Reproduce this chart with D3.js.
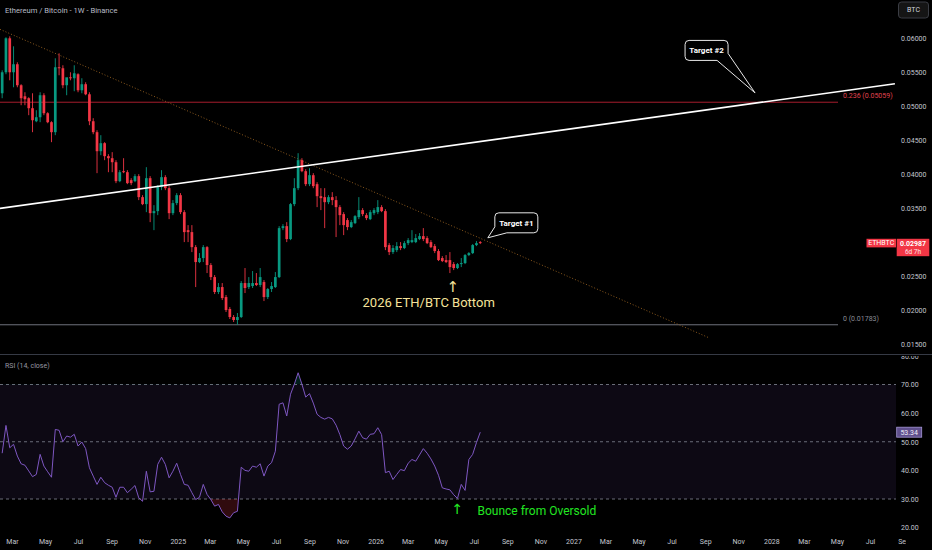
<!DOCTYPE html>
<html>
<head>
<script src="https://d3js.org/d3.v7.min.js"></script>
<style>
    html, body { margin: 0; padding: 0; background: #000; }
    svg { display: block; font-family: Roboto, "Noto Sans", sans-serif; }
</style>
</head>
<body>
<div id="chart"></div>
<script>
// ---- data ----
const firstWeek = "2024-02-12"; // first weekly candle
// weekly candles [open, high, low, close] (ETH priced in BTC)
const candles = [
    [0.05191,0.05529,0.05118,0.05500],[0.05500,0.06015,0.05471,0.06000],[0.06000,0.06029,0.05382,0.05500],
    [0.05500,0.05882,0.05279,0.05618],[0.05618,0.05647,0.05279,0.05309],[0.05309,0.05324,0.05015,0.05118],
    [0.05147,0.05206,0.05015,0.05103],[0.05118,0.05132,0.04868,0.04971],[0.04971,0.05191,0.04618,0.04794],
    [0.04779,0.04941,0.04765,0.04838],[0.04838,0.05206,0.04765,0.05162],[0.05162,0.05191,0.04868,0.04897],
    [0.04897,0.04912,0.04750,0.04765],[0.04765,0.04779,0.04471,0.04618],[0.04618,0.05706,0.04574,0.05574],
    [0.05574,0.05779,0.05456,0.05559],[0.05559,0.05603,0.05265,0.05309],[0.05309,0.05382,0.05162,0.05426],
    [0.05426,0.05500,0.05382,0.05412],[0.05412,0.05603,0.05221,0.05485],[0.05471,0.05485,0.05206,0.05235],
    [0.05235,0.05412,0.05191,0.05324],[0.05324,0.05353,0.05162,0.05176],[0.05176,0.05206,0.04721,0.04779],
    [0.04779,0.04824,0.04588,0.04618],[0.04618,0.04647,0.04015,0.04338],[0.04338,0.04574,0.04279,0.04456],
    [0.04456,0.04471,0.04206,0.04265],[0.04265,0.04294,0.04029,0.04235],[0.04235,0.04324,0.04029,0.04176],
    [0.04176,0.04206,0.03868,0.03897],[0.03897,0.04059,0.03882,0.04029],[0.04044,0.04235,0.04015,0.04029],
    [0.04029,0.04059,0.03853,0.03868],[0.03912,0.03941,0.03838,0.03868],[0.03897,0.04000,0.03882,0.03971],
    [0.03971,0.04000,0.03618,0.03662],[0.03662,0.03691,0.03544,0.03559],[0.03559,0.04103,0.03441,0.03941],
    [0.03941,0.03971,0.03294,0.03426],[0.03426,0.03544,0.03176,0.03456],[0.03456,0.03838,0.03397,0.03809],
    [0.03809,0.04059,0.03765,0.03956],[0.03956,0.03985,0.03765,0.03794],[0.03794,0.03824,0.03338,0.03426],
    [0.03426,0.03618,0.03397,0.03574],[0.03574,0.03721,0.03544,0.03691],[0.03691,0.03721,0.03412,0.03441],
    [0.03441,0.03471,0.03000,0.03147],[0.03176,0.03250,0.03000,0.03147],[0.03147,0.03250,0.02853,0.02926],
    [0.02926,0.02956,0.02338,0.02706],[0.02706,0.02838,0.02691,0.02765],[0.02765,0.02956,0.02706,0.02926],
    [0.02926,0.02941,0.02544,0.02662],[0.02662,0.02691,0.02441,0.02485],[0.02485,0.02515,0.02235,0.02265],
    [0.02265,0.02397,0.02235,0.02338],[0.02338,0.02397,0.02147,0.02176],[0.02191,0.02221,0.01971,0.02000],
    [0.02015,0.02044,0.01868,0.01897],[0.01897,0.01926,0.01824,0.01853],[0.01853,0.01956,0.01783,0.01897],
    [0.01897,0.02426,0.01882,0.02397],[0.02397,0.02618,0.02250,0.02324],[0.02338,0.02485,0.02309,0.02397],
    [0.02353,0.02574,0.02324,0.02397],[0.02397,0.02544,0.02353,0.02368],[0.02368,0.02618,0.02338,0.02485],
    [0.02412,0.02441,0.02132,0.02191],[0.02191,0.02324,0.02162,0.02309],[0.02309,0.02412,0.02265,0.02353],
    [0.02338,0.02559,0.02324,0.02485],[0.02485,0.03235,0.02471,0.03206],[0.03206,0.03265,0.03176,0.03235],
    [0.03235,0.03294,0.03000,0.03044],[0.03044,0.03574,0.03029,0.03559],[0.03559,0.03941,0.03529,0.03794],
    [0.03794,0.04309,0.03765,0.04206],[0.04206,0.04235,0.04029,0.04044],[0.04044,0.04074,0.03824,0.03853],
    [0.03853,0.04088,0.03824,0.03985],[0.03985,0.04015,0.03794,0.03824],[0.03853,0.03882,0.03515,0.03676],
    [0.03676,0.03794,0.03471,0.03647],[0.03662,0.03794,0.03206,0.03588],[0.03588,0.03691,0.03559,0.03662],
    [0.03662,0.03735,0.03544,0.03618],[0.03618,0.03676,0.03074,0.03515],[0.03515,0.03544,0.03250,0.03397],
    [0.03412,0.03441,0.03103,0.03250],[0.03324,0.03353,0.03176,0.03221],[0.03221,0.03324,0.03206,0.03294],
    [0.03279,0.03397,0.03265,0.03382],[0.03368,0.03662,0.03338,0.03471],[0.03471,0.03500,0.03382,0.03412],
    [0.03397,0.03426,0.03324,0.03353],[0.03338,0.03471,0.03324,0.03441],[0.03426,0.03500,0.03397,0.03471],
    [0.03441,0.03618,0.03412,0.03515],[0.03515,0.03544,0.03441,0.03456],[0.03456,0.03485,0.02882,0.02926],
    [0.02956,0.02985,0.02809,0.02853],[0.02853,0.02956,0.02824,0.02912],[0.02882,0.03000,0.02853,0.02941],
    [0.02941,0.03000,0.02882,0.02912],[0.02912,0.03015,0.02897,0.02985],[0.02985,0.03059,0.02956,0.03029],
    [0.03000,0.03176,0.02985,0.03029],[0.03000,0.03118,0.02985,0.03059],[0.03044,0.03132,0.03029,0.03088],
    [0.03088,0.03206,0.03015,0.03044],[0.03059,0.03088,0.02971,0.02985],[0.03000,0.03029,0.02912,0.02926],
    [0.02941,0.02971,0.02838,0.02868],[0.02868,0.02897,0.02721,0.02735],[0.02765,0.02794,0.02706,0.02721],
    [0.02735,0.02809,0.02691,0.02706],[0.02735,0.02853,0.02544,0.02632],[0.02676,0.02706,0.02588,0.02618],
    [0.02618,0.02691,0.02603,0.02676],[0.02676,0.02765,0.02632,0.02691],[0.02691,0.02824,0.02676,0.02809],
    [0.02809,0.02853,0.02794,0.02838],[0.02838,0.02971,0.02824,0.02956],[0.02956,0.03015,0.02941,0.02985],
    [0.03000,0.03015,0.02971,0.02987]
];
// RSI(14, close), one value per candle
const rsi = [
    46, 55.7, 47.9, 49.1, 45, 42.3, 41.8, 39.8, 37.8, 38.6, 45.6, 41.5, 39.5, 37.6, 54.3, 54, 50, 52, 51.6, 52.6,
    48.5, 49.9, 47.6, 40.9, 38, 35.1, 37.6, 35.7, 34.8, 34.1, 30.6, 34.1, 34.1, 32.2, 33.4, 34.7, 30.4, 29.2, 39.7, 32.5,
    32.7, 42.1, 44.6, 42.1, 37.4, 39.7, 42.5, 38.6, 35.1, 34.8, 32.2, 29.8, 30.6, 35.1, 31.6, 29.8, 27.5, 28.1, 25.5, 24,
    23.4, 25.2, 25.7, 41.1, 40, 39.7, 41.5, 41.1, 42.3, 38, 41.5, 42.7, 46.7, 63.1, 63.6, 59, 66.6, 70.1, 74.1, 70.1,
    65.6, 66.8, 63.5, 59.6, 58.5, 57.9, 58.5, 58, 55.8, 52.5, 48.5, 47.4, 48.5, 51, 53.7, 51.4, 50.9, 52.6, 52.8, 54.9,
    52.5, 39.2, 39.7, 36.8, 38.6, 40.3, 39.9, 42.5, 43.8, 43.2, 45.4, 47.6, 46, 44, 41.5, 38.3, 33.9, 33.5, 33.2, 31.5,
    30.2, 35.1, 33, 43.8, 45.6, 49.7, 53.34
];
const priceTicks = [0.015, 0.02, 0.025, 0.035, 0.04, 0.045, 0.05, 0.055, 0.06];
const rsiTicks = [20, 30, 40, 50, 60, 70, 80];
const rsiLevels = [70, 50, 30];
const fibLevels = [{label: "0.236 (0.05059)", value: 0.05059, color: "#a51d2d", text: "#e0434f"},
                   {label: "0 (0.01783)", value: 0.01783, color: "#6f727c", text: "#8a8d96"}];
const resistanceLine = [["2024-02-08", 0.06132], ["2027-09-09", 0.01588]];
const targetLine = [["2024-02-08", 0.03496], ["2028-08-16", 0.05332]];
const targets = [{label: "Target #1", date: "2026-07-27", price: 0.03063},
                 {label: "Target #2", date: "2027-12-02", price: 0.05196}];
const lastPrice = 0.02987, lastRsi = 53.34, countdown = "6d 7h";

// ---- layout ----
const W = 932, H = 550,
      plotRight = 896,
      priceTop = 0, priceBottom = 354,
      rsiTop = 355, rsiBottom = 536;

const parse = d3.utcParse("%Y-%m-%d");
const dates = candles.map((d, i) => d3.utcDay.offset(parse(firstWeek), 7 * i));

const x = d3.scaleUtc()
            .domain([parse("2024-02-08"), parse("2028-08-18")])
            .range([0, plotRight]);
const y = d3.scaleLinear().domain([0.015, 0.06]).range([344, 38.3]);
const yR = d3.scaleLinear().domain([30, 70]).range([499, 384.5]);

const up = "#089981", down = "#f23645";

const svg = d3.select("#chart").append("svg").attr("width", W).attr("height", H);
svg.append("rect").attr("width", W).attr("height", H).attr("fill", "#000");

const defs = svg.append("defs");
defs.append("clipPath").attr("id", "clipPrice")
    .append("rect").attr("x", 0).attr("y", priceTop).attr("width", plotRight).attr("height", priceBottom - priceTop);
defs.append("clipPath").attr("id", "clipRsi")
    .append("rect").attr("x", 0).attr("y", rsiTop).attr("width", plotRight).attr("height", rsiBottom - rsiTop);
defs.append("clipPath").attr("id", "clipOversold")
    .append("rect").attr("x", 0).attr("y", yR(30)).attr("width", plotRight).attr("height", rsiBottom - yR(30));
defs.append("clipPath").attr("id", "clipOverbought")
    .append("rect").attr("x", 0).attr("y", rsiTop).attr("width", plotRight).attr("height", yR(70) - rsiTop);
defs.append("clipPath").attr("id", "clipRsiAxis")
    .append("rect").attr("x", plotRight).attr("y", rsiTop + 1).attr("width", W - plotRight).attr("height", rsiBottom - rsiTop);
defs.append("clipPath").attr("id", "clipTime")
    .append("rect").attr("x", 0).attr("y", rsiBottom).attr("width", 906).attr("height", H - rsiBottom);

// ---- price pane ----
const pricePane = svg.append("g").attr("clip-path", "url(#clipPrice)");

// fib levels
pricePane.selectAll("line.fib").data(fibLevels).join("line")
    .attr("class", "fib")
    .attr("x1", 0).attr("x2", x(parse("2028-05-03")))
    .attr("y1", d => y(d.value)).attr("y2", d => y(d.value))
    .attr("stroke", d => d.color).attr("stroke-width", 1);

// dotted resistance
pricePane.append("line")
    .attr("x1", x(parse(resistanceLine[0][0]))).attr("y1", y(resistanceLine[0][1]))
    .attr("x2", x(parse(resistanceLine[1][0]))).attr("y2", y(resistanceLine[1][1]))
    .attr("stroke", "#8c5a1e").attr("stroke-width", 1).attr("stroke-dasharray", "1,2");

// candles
pricePane.selectAll("line.wick").data(candles).join("line")
    .attr("class", "wick")
    .attr("x1", (d, i) => x(dates[i])).attr("x2", (d, i) => x(dates[i]))
    .attr("y1", d => y(d[1])).attr("y2", d => y(d[2]))
    .attr("stroke", d => d[3] >= d[0] ? up : down).attr("stroke-width", 0.9);

pricePane.selectAll("rect.body").data(candles).join("rect")
    .attr("class", "body")
    .attr("x", (d, i) => x(dates[i]) - 1.35).attr("width", 2.7)
    .attr("y", d => y(Math.max(d[0], d[3])))
    .attr("height", d => Math.max(1, Math.abs(y(d[0]) - y(d[3]))))
    .attr("fill", d => d[3] >= d[0] ? up : down);

// rising white line
pricePane.append("line")
    .attr("x1", x(parse(targetLine[0][0]))).attr("y1", y(targetLine[0][1]))
    .attr("x2", x(parse(targetLine[1][0]))).attr("y2", y(targetLine[1][1]))
    .attr("stroke", "#ffffff").attr("stroke-width", 1.6);

// fib labels
svg.selectAll("text.fib").data(fibLevels).join("text")
    .attr("class", "fib")
    .attr("x", x(parse("2028-05-03")) + 5).attr("y", d => y(d.value) - 6)
    .attr("fill", d => d.text).attr("font-size", 7).attr("dy", "0.32em")
    .text(d => d.label);

// target callouts
function callout(g, t, i) {
    const tx = x(parse(t.date)), ty = y(t.price);
    let p, bx, by;
    const w = 43, h = 20, r = 4;
    if (i === 0) {
        bx = tx + 7; by = ty - 25;
        p = `M${bx + r},${by} H${bx + w - r} A${r},${r} 0 0 1 ${bx + w},${by + r} V${by + h - r}
             A${r},${r} 0 0 1 ${bx + w - r},${by + h} H${bx + 12} L${tx},${ty} L${bx},${by + h - 6}
             V${by + r} A${r},${r} 0 0 1 ${bx + r},${by} Z`;
    } else {
        bx = tx - 70; by = ty - 52.5;
        p = `M${bx + r},${by} H${bx + w - r} A${r},${r} 0 0 1 ${bx + w},${by + r} V${by + h - 7}
             L${tx},${ty} L${bx + w - 11},${by + h} H${bx + r} A${r},${r} 0 0 1 ${bx},${by + h - r}
             V${by + r} A${r},${r} 0 0 1 ${bx + r},${by} Z`;
    }
    g.append("path").attr("d", p).attr("fill", "#000").attr("stroke", "#e8e8e8").attr("stroke-width", 1);
    g.append("text").attr("x", bx + w / 2).attr("y", by + h / 2).attr("dy", "0.35em")
        .attr("text-anchor", "middle").attr("fill", "#fff").attr("font-size", 8).attr("font-weight", "bold")
        .text(t.label);
}
targets.forEach((t, i) => callout(svg.append("g"), t, i));

// bottom annotation
const bottomX = x(dates[119]);
svg.append("text").attr("x", bottomX - 1).attr("y", y(0.02345)).attr("dy", "0.35em")
    .attr("text-anchor", "middle").attr("fill", "#f5e39a").attr("font-size", 15)
    .attr("font-family", "DejaVu Sans").text("↑");
svg.append("text").attr("x", bottomX - 25).attr("y", y(0.02113)).attr("dy", "0.35em")
    .attr("text-anchor", "middle").attr("fill", "#f5e39a").attr("font-size", 13)
    .text("2026 ETH/BTC Bottom");

// price axis
const priceAxis = svg.append("g")
    .attr("transform", `translate(${plotRight},0)`)
    .call(d3.axisRight(y).tickValues(priceTicks).tickFormat(d3.format(".5f")).tickSize(0).tickPadding(5));
priceAxis.select(".domain").remove();
priceAxis.selectAll("text").attr("fill", "#c3c6ce").attr("font-size", 7).attr("font-family", "Roboto");

// last price labels
const ly = y(lastPrice);
svg.append("rect").attr("x", 866.5).attr("y", ly - 4.2).attr("width", 29.5).attr("height", 8.6).attr("fill", down);
svg.append("text").attr("x", 881.2).attr("y", ly).attr("dy", "0.35em").attr("text-anchor", "middle")
    .attr("fill", "#fff").attr("font-size", 7).text("ETHBTC");
svg.append("rect").attr("x", 896.7).attr("y", ly - 4.2).attr("width", 32.6).attr("height", 17.4).attr("fill", down);
svg.append("text").attr("x", 913).attr("y", ly + 0.5).attr("dy", "0.35em").attr("text-anchor", "middle")
    .attr("fill", "#fff").attr("font-size", 7).attr("font-weight", "bold").text(d3.format(".5f")(lastPrice));
svg.append("text").attr("x", 913).attr("y", ly + 8.6).attr("dy", "0.35em").attr("text-anchor", "middle")
    .attr("fill", "#ffe3e5").attr("font-size", 6.5).text(countdown);

// header
svg.append("text").attr("x", 5).attr("y", 10).attr("dy", "0.35em")
    .attr("fill", "#b8bcc6").attr("font-size", 7.6).text("Ethereum / Bitcoin - 1W - Binance");
svg.append("rect").attr("x", 898.5).attr("y", 2).attr("width", 30).attr("height", 16).attr("rx", 3)
    .attr("fill", "#151515").attr("stroke", "#3b3d44").attr("stroke-width", 1);
svg.append("text").attr("x", 913.5).attr("y", 10).attr("dy", "0.35em").attr("text-anchor", "middle")
    .attr("fill", "#d1d4dc").attr("font-size", 7).text("BTC");

// pane separator
svg.append("line").attr("x1", 0).attr("x2", W).attr("y1", rsiTop - 0.5).attr("y2", rsiTop - 0.5)
    .attr("stroke", "#363a45").attr("stroke-width", 1);

// ---- RSI pane ----
const rsiPane = svg.append("g").attr("clip-path", "url(#clipRsi)");
rsiPane.append("rect").attr("x", 0).attr("width", plotRight)
    .attr("y", yR(70)).attr("height", yR(30) - yR(70)).attr("fill", "rgba(126,87,194,0.1)");
rsiPane.selectAll("line.level").data(rsiLevels).join("line")
    .attr("class", "level")
    .attr("x1", 0).attr("x2", plotRight)
    .attr("y1", d => yR(d)).attr("y2", d => yR(d))
    .attr("stroke", "#6a6d78").attr("stroke-width", 1).attr("stroke-dasharray", "3,3");

const rsiX = (d, i) => x(dates[i]);
rsiPane.append("g").attr("clip-path", "url(#clipOversold)")
    .append("path").datum(rsi)
    .attr("d", d3.area().x(rsiX).y0(yR(30)).y1(d => yR(d)))
    .attr("fill", "rgba(242,54,69,0.2)");
rsiPane.append("g").attr("clip-path", "url(#clipOverbought)")
    .append("path").datum(rsi)
    .attr("d", d3.area().x(rsiX).y0(yR(70)).y1(d => yR(d)))
    .attr("fill", "rgba(8,153,129,0.2)");
rsiPane.append("path").datum(rsi)
    .attr("d", d3.line().x(rsiX).y(d => yR(d)))
    .attr("fill", "none").attr("stroke", "#7e57c2").attr("stroke-width", 1);

svg.append("text").attr("x", 5).attr("y", 366).attr("dy", "0.35em")
    .attr("fill", "#9598a1").attr("font-size", 7).text("RSI (14, close)");

// bounce annotation
const bounceX = x(dates[120]);
svg.append("text").attr("x", bounceX).attr("y", yR(26.5)).attr("dy", "0.35em")
    .attr("text-anchor", "middle").attr("fill", "#22e622").attr("font-size", 14)
    .attr("font-family", "DejaVu Sans").text("↑");
svg.append("text").attr("x", bounceX + 20).attr("y", yR(26)).attr("dy", "0.35em")
    .attr("fill", "#22e622").attr("font-size", 12).text("Bounce from Oversold");

// RSI axis
const rsiAxis = svg.append("g")
    .attr("clip-path", "url(#clipRsiAxis)")
    .append("g")
    .attr("transform", `translate(${plotRight},0)`)
    .call(d3.axisRight(yR).tickValues(rsiTicks).tickFormat(d3.format(".2f")).tickSize(0).tickPadding(5));
rsiAxis.select(".domain").remove();
rsiAxis.selectAll("text").attr("fill", "#c3c6ce").attr("font-size", 7).attr("font-family", "Roboto");

svg.append("rect").attr("x", 896.7).attr("y", yR(lastRsi) - 5).attr("width", 25).attr("height", 10)
    .attr("fill", "#5f4f8c").attr("stroke", "#a596d6").attr("stroke-width", 0.8);
svg.append("text").attr("x", 909.2).attr("y", yR(lastRsi)).attr("dy", "0.35em").attr("text-anchor", "middle")
    .attr("fill", "#f0edf8").attr("font-size", 7).text(d3.format(".2f")(lastRsi));

// ---- time axis ----
const timeTicks = d3.utcMonth.every(2).range(parse("2024-03-01"), parse("2028-10-01"));
const timeAxis = svg.append("g")
    .attr("clip-path", "url(#clipTime)")
    .append("g")
    .attr("transform", `translate(0,${rsiBottom})`)
    .call(d3.axisBottom(x).tickValues(timeTicks)
            .tickFormat(d => d.getUTCMonth() === 0 ? d3.utcFormat("%Y")(d) : d3.utcFormat("%b")(d))
            .tickSize(0).tickPadding(3));
timeAxis.select(".domain").remove();
timeAxis.selectAll("text").attr("fill", "#c3c6ce").attr("font-size", 7).attr("font-family", "Roboto");
</script>
</body>
</html>
